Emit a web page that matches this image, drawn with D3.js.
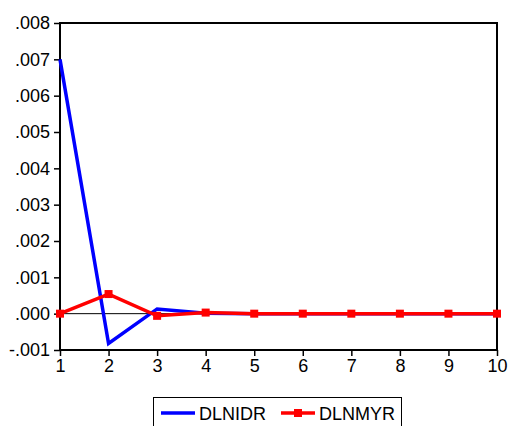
<!DOCTYPE html>
<html>
<head>
<meta charset="utf-8">
<script src="https://cdn.jsdelivr.net/npm/d3@7"></script>
<style>
  body { margin: 0; background: #fff; }
  text { font-family: "Liberation Sans", Arial, sans-serif; fill: #000; }
</style>
</head>
<body>
<div id="chart"></div>
<script>
// Data
const periods = [1, 2, 3, 4, 5, 6, 7, 8, 9, 10];
const dlnidr = [0.0070, -0.00082, 0.00013, 0.00001, 0, 0, 0, 0, 0, 0];
const dlnmyr = [0.0, 0.00054, -0.00006, 0.00003, 0, 0, 0, 0, 0, 0];
const yTicks = [-0.001, 0, 0.001, 0.002, 0.003, 0.004, 0.005, 0.006, 0.007, 0.008];
const seriesNames = ['DLNIDR', 'DLNMYR'];
const seriesColors = ['#0000ff', '#ff0000'];

const W = 508, H = 426;
const plot = { left: 60, right: 497, top: 23, bottom: 350 };

const svg = d3.select('#chart').append('svg')
  .attr('width', W)
  .attr('height', H);

const x = d3.scaleLinear().domain([1, 10]).range([plot.left, plot.right]);
const y = d3.scaleLinear().domain([-0.001, 0.008]).range([plot.bottom, plot.top]);

// eviews style: no leading zero, plain hyphen for minus
const fmt = v => v.toFixed(3).replace(/^(-?)0\./, '$1.');

// Axes
const yAxis = d3.axisLeft(y).tickValues(yTicks).tickFormat(fmt).tickSize(6).tickPadding(4);
const xAxis = d3.axisBottom(x).tickValues(periods).tickFormat(d3.format('d')).tickSize(6).tickPadding(3);

const gy = svg.append('g').attr('transform', `translate(${plot.left},0)`).call(yAxis);
const gx = svg.append('g').attr('transform', `translate(0,${plot.bottom})`).call(xAxis);
[gy, gx].forEach(g => {
  g.select('.domain').remove();
  g.selectAll('line').attr('stroke', '#000').attr('stroke-width', 1.5);
  g.selectAll('text').attr('font-size', 18).attr('fill', '#000')
    .style('font-family', '"Liberation Sans", Arial, sans-serif');
});

// zero line
svg.append('line')
  .attr('x1', plot.left).attr('x2', plot.right)
  .attr('y1', y(0)).attr('y2', y(0))
  .attr('stroke', '#000').attr('stroke-width', 1);

// frame
svg.append('rect')
  .attr('x', plot.left).attr('y', plot.top)
  .attr('width', plot.right - plot.left).attr('height', plot.bottom - plot.top)
  .attr('fill', 'none').attr('stroke', '#000').attr('stroke-width', 2);

const line = d3.line().x((d, i) => x(periods[i])).y(d => y(d));

svg.append('path').datum(dlnidr)
  .attr('d', line).attr('fill', 'none')
  .attr('stroke', seriesColors[0]).attr('stroke-width', 3.5)
  .attr('stroke-linejoin', 'miter');

svg.append('path').datum(dlnmyr)
  .attr('d', line).attr('fill', 'none')
  .attr('stroke', seriesColors[1]).attr('stroke-width', 3.5)
  .attr('stroke-linejoin', 'miter');

svg.append('g').selectAll('rect')
  .data(dlnmyr)
  .enter().append('rect')
  .attr('x', (d, i) => x(periods[i]) - 4)
  .attr('y', d => y(d) - 4)
  .attr('width', 8).attr('height', 8)
  .attr('fill', seriesColors[1]);

// Legend
const lg = svg.append('g');
lg.append('rect')
  .attr('x', 153.5).attr('y', 397.5)
  .attr('width', 248).attr('height', 40)
  .attr('fill', '#fff').attr('stroke', '#000').attr('stroke-width', 1);

const legendItems = [
  { name: seriesNames[0], color: seriesColors[0], x0: 161, marker: false },
  { name: seriesNames[1], color: seriesColors[1], x0: 281, marker: true }
];
legendItems.forEach(it => {
  lg.append('line')
    .attr('x1', it.x0).attr('x2', it.x0 + 34)
    .attr('y1', 413).attr('y2', 413)
    .attr('stroke', it.color).attr('stroke-width', 3.5);
  if (it.marker) {
    lg.append('rect')
      .attr('x', it.x0 + 17 - 4).attr('y', 409)
      .attr('width', 8).attr('height', 8)
      .attr('fill', it.color);
  }
  lg.append('text')
    .attr('x', it.x0 + 38).attr('y', 419.5)
    .attr('font-size', 18)
    .text(it.name);
});
</script>
</body>
</html>
